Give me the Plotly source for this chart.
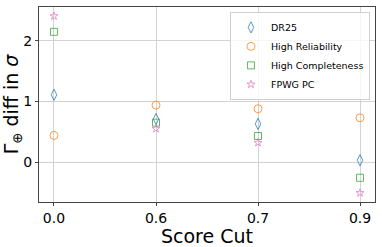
import plotly.graph_objects as go

categories = ["0.0", "0.6", "0.7", "0.9"]
dr25 = [1.11, 0.71, 0.63, 0.03]
high_rel = [0.44, 0.94, 0.88, 0.73]
high_comp = [2.15, 0.65, 0.43, -0.26]
fpwg_pc = [2.41, 0.55, 0.32, -0.51]

series = [
    ("DR25", dr25, "diamond-tall-open", "#1f77b4", 8),
    ("High Reliability", high_rel, "circle-open", "#ff7f0e", 8),
    ("High Completeness", high_comp, "square-open", "#2ca02c", 7),
    ("FPWG PC", fpwg_pc, "star-open", "#e377c2", 6),
]

x_idx = list(range(len(categories)))
fig = go.Figure()
for name, vals, sym, col, sz in series:
    fig.add_trace(go.Scatter(
        x=x_idx, y=vals, mode="markers", name=name,
        marker=dict(symbol=sym, size=sz, color=col, opacity=0.75,
                    line=dict(width=1, color=col)),
    ))

fig.update_layout(
    width=382, height=247,
    margin=dict(l=39, r=7, t=6, b=44),
    paper_bgcolor="white", plot_bgcolor="white",
    font=dict(family="DejaVu Sans", color="black"),
    showlegend=True,
    legend=dict(
        x=0.985, y=0.975, xanchor="right", yanchor="top",
        bgcolor="rgba(255,255,255,0.8)", bordercolor="#d0d0d0", borderwidth=1,
        font=dict(size=9.5, family="DejaVu Sans"),
        tracegroupgap=0, itemwidth=30,
    ),
)
fig.update_xaxes(
    tickmode="array", tickvals=x_idx, ticktext=categories,
    range=[-0.147, 3.147],
    showgrid=True, gridcolor="#d3d3d3", gridwidth=1,
    showline=True, linecolor="#444444", linewidth=1, mirror=True,
    ticks="outside", ticklen=3, tickcolor="#444444",
    tickfont=dict(size=14),
    title=dict(text="Score Cut", font=dict(size=19), standoff=2),
    zeroline=False,
)
fig.update_yaxes(
    tickmode="array", tickvals=[0, 1, 2], ticktext=["0", "1", "2"],
    range=[-0.66, 2.56],
    showgrid=True, gridcolor="#d3d3d3", gridwidth=1,
    showline=True, linecolor="#444444", linewidth=1, mirror=True,
    ticks="outside", ticklen=3, tickcolor="#444444",
    tickfont=dict(size=14),
    title=dict(text="Γ<sub>⊕</sub> diff in <i>σ</i>", font=dict(size=19), standoff=4),
    zeroline=False,
)

fig.write_html(
    "out.html",
    config={"displayModeBar": False},
    post_script="document.body.style.margin='0';document.body.style.overflow='hidden';",
)
